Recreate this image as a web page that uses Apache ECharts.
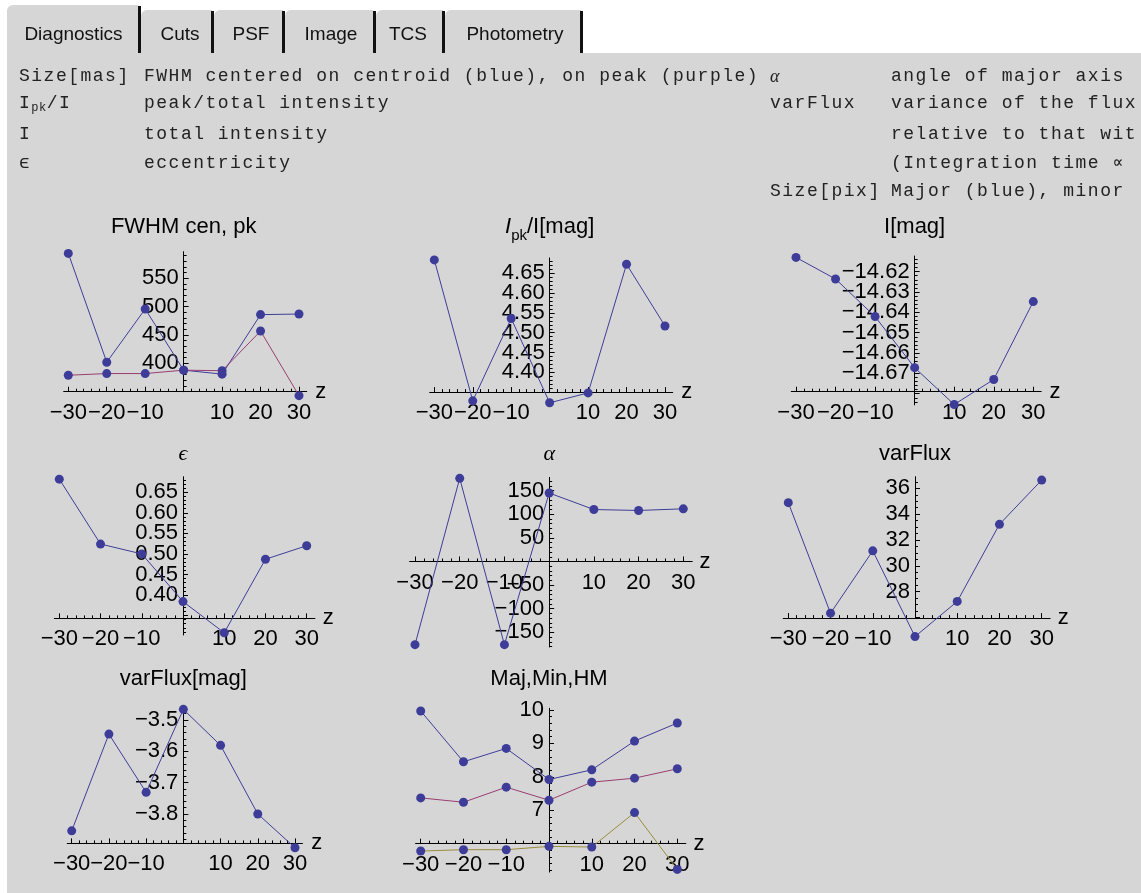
<!DOCTYPE html>
<html>
<head>
<meta charset="utf-8">
<script src="https://cdn.jsdelivr.net/npm/echarts@6/dist/echarts.min.js"></script>
<style>
html,body{margin:0;padding:0;width:1141px;height:893px;overflow:hidden;background:#fff;}
#panel{position:absolute;left:7px;top:53px;right:0;bottom:0;background:#d6d6d6;}
.tab{position:absolute;background:#d6d6d6;border-top-left-radius:6px;}
.bar{position:absolute;background:#111;width:3px;}
.tabtxt{position:absolute;top:22px;line-height:24px;font-size:19px;font-family:'Liberation Sans',Arial,sans-serif;color:#111;text-align:center;white-space:nowrap;z-index:3;}
#chart{position:absolute;left:0;top:0;width:1141px;height:893px;z-index:1;}
.desc{position:absolute;font-size:18px;font-family:'Liberation Mono','Courier New',monospace;letter-spacing:1.5px;color:#222;white-space:pre;line-height:24px;z-index:2;}
.desc sub{font-size:12px;vertical-align:-3px;line-height:0;letter-spacing:0.5px;}
.greek{font-family:'Liberation Serif','DejaVu Serif',serif;font-style:italic;}
</style>
</head>
<body>
<div id="panel"></div>
<div class="tab" style="left:7px;top:5px;width:131px;height:48px;"></div><div class="bar" style="left:138px;top:6px;height:47px;"></div>
<div class="tab" style="left:141px;top:10px;width:71px;height:43px;"></div><div class="bar" style="left:211px;top:11px;height:42px;"></div>
<div class="tab" style="left:214px;top:10px;width:69px;height:43px;"></div><div class="bar" style="left:282px;top:11px;height:42px;"></div>
<div class="tab" style="left:285px;top:10px;width:88px;height:43px;"></div><div class="bar" style="left:373px;top:11px;height:42px;"></div>
<div class="tab" style="left:376px;top:10px;width:67px;height:43px;"></div><div class="bar" style="left:442px;top:11px;height:42px;"></div>
<div class="tab" style="left:445px;top:10px;width:136px;height:43px;"></div><div class="bar" style="left:580px;top:11px;height:42px;"></div>
<div class="tabtxt" style="left:23px;width:101px;">Diagnostics</div>
<div class="tabtxt" style="left:155px;width:50px;">Cuts</div>
<div class="tabtxt" style="left:226px;width:50px;">PSF</div>
<div class="tabtxt" style="left:296px;width:70px;">Image</div>
<div class="tabtxt" style="left:383px;width:50px;">TCS</div>
<div class="tabtxt" style="left:460px;width:110px;">Photometry</div>

<div class="desc" style="left:19px;top:64px;">Size[mas]</div>
<div class="desc" style="left:144px;top:64px;">FWHM centered on centroid (blue), on peak (purple)</div>
<div class="desc" style="left:770px;top:64px;"><span class="greek">α</span></div>
<div class="desc" style="left:891px;top:64px;">angle of major axis</div>
<div class="desc" style="left:19px;top:91px;">I<sub>pk</sub>/I</div>
<div class="desc" style="left:144px;top:91px;">peak/total intensity</div>
<div class="desc" style="left:770px;top:91px;">varFlux</div>
<div class="desc" style="left:891px;top:91px;">variance of the flux</div>
<div class="desc" style="left:19px;top:122px;">I</div>
<div class="desc" style="left:144px;top:122px;">total intensity</div>
<div class="desc" style="left:891px;top:122px;">relative to that wit</div>
<div class="desc" style="left:19px;top:151px;">ϵ</div>
<div class="desc" style="left:144px;top:151px;">eccentricity</div>
<div class="desc" style="left:891px;top:151px;">(Integration time ∝</div>
<div class="desc" style="left:770px;top:179px;">Size[pix]</div>
<div class="desc" style="left:891px;top:179px;">Major (blue), minor</div>

<div id="chart"></div>
<script>
// ---------------- data ----------------
const zValues = [-30, -20, -10, 0, 10, 20, 30];
const zTickLabels = [-30, -20, -10, 10, 20, 30];

const fwhmCentroid = [594, 402, 496, 388, 381, 486, 487];
const fwhmPeak = [379, 382, 382, 388, 387, 457, 343];
const ipkOverI = [4.684, 4.328, 4.536, 4.323, 4.348, 4.673, 4.517];
const totalIntensity = [-14.613, -14.6236, -14.6421, -14.6672, -14.6853, -14.6730, -14.6347];
const eccentricity = [0.682, 0.524, 0.500, 0.384, 0.308, 0.487, 0.520];
const majorAxisAngle = [-176, 176, -176, 145, 110, 108, 111.5];
const varFlux = [34.89, 26.33, 31.16, 24.52, 27.24, 33.21, 36.64];
const varFluxMag = [-3.854, -3.545, -3.731, -3.466, -3.581, -3.800, -3.908];
const sizeMajor = [9.97, 8.45, 8.85, 7.92, 8.21, 9.07, 9.61];
const sizeMinor = [7.37, 7.24, 7.69, 7.30, 7.84, 7.96, 8.24];
const sizeHM = [5.78, 5.82, 5.82, 5.92, 5.90, 6.93, 5.23];

const fwhmTickLabels = [400, 450, 500, 550];
const ipkTickLabels = [4.40, 4.45, 4.50, 4.55, 4.60, 4.65];
const intensityTickLabels = [-14.67, -14.66, -14.65, -14.64, -14.63, -14.62];
const eccTickLabels = [0.40, 0.45, 0.50, 0.55, 0.60, 0.65];
const angleTickLabels = [-150, -100, -50, 50, 100, 150];
const varFluxTickLabels = [28, 30, 32, 34, 36];
const varFluxMagTickLabels = [-3.8, -3.7, -3.6, -3.5];
const sizeTickLabels = [7, 8, 9, 10];

// ---------------- styles / layout ----------------
const MARKER = '#3d3d99';
const BLUE = '#3d3d99';
const PURPLE = '#993d71';
const OLIVE = '#998c3d';
const FONT = "'Liberation Sans', Arial, Helvetica, sans-serif";
const SERIF = "'Liberation Serif', 'DejaVu Serif', serif";
const XMIN = -31.2, XMAX = 32;

const panels = [
  {title: 'FWHM cen, pk', lines: [[fwhmCentroid, BLUE], [fwhmPeak, PURPLE]], labels: fwhmTickLabels, dec: 0,
   xa: 68.3, xb: 299.0, ymin: 350, ymax: 597, yTop: 251.7, yBot: 391.7, cross: 350, step: 50, split: 5, titleY: 227},
  {title: '{i|I}{s|pk}/I[mag]', lines: [[ipkOverI, BLUE]], labels: ipkTickLabels, dec: 2,
   xa: 434.3, xb: 665.0, ymin: 4.35, ymax: 4.689, yTop: 257.9, yBot: 392.1, cross: 4.35, step: 0.05, split: 5, titleY: 227},
  {title: 'I[mag]', lines: [[totalIntensity, BLUE]], labels: intensityTickLabels, dec: 2,
   xa: 796.0, xb: 1033.3, ymin: -14.6855, ymax: -14.6123, yTop: 256.0, yBot: 404.9, cross: -14.679, step: 0.01, split: 5, titleY: 227},
  {title: '{g|ϵ}', lines: [[eccentricity, BLUE]], labels: eccTickLabels, dec: 2,
   xa: 59.3, xb: 306.7, ymin: 0.3026, ymax: 0.688, yTop: 476.7, yBot: 635.0, cross: 0.343, step: 0.05, split: 5, titleY: 454},
  {title: '{g|α}', lines: [[majorAxisAngle, BLUE]], labels: angleTickLabels, dec: 0,
   xa: 415.0, xb: 683.3, ymin: -181, ymax: 178, yTop: 477.4, yBot: 647.0, cross: 0, step: 50, split: 5, titleY: 454},
  {title: 'varFlux', lines: [[varFlux, BLUE]], labels: varFluxTickLabels, dec: 0,
   xa: 788.3, xb: 1041.7, ymin: 25.95, ymax: 36.9, yTop: 476.7, yBot: 618.1, cross: 25.95, step: 2, split: 4, titleY: 454},
  {title: 'varFlux[mag]', lines: [[varFluxMag, BLUE]], labels: varFluxMagTickLabels, dec: 1,
   xa: 71.7, xb: 295.0, ymin: -3.894, ymax: -3.463, yTop: 708.4, yBot: 843.4, cross: -3.894, step: 0.1, split: 5, titleY: 679},
  {title: 'Maj,Min,HM', lines: [[sizeMajor, BLUE], [sizeMinor, PURPLE], [sizeHM, OLIVE]], labels: sizeTickLabels, dec: 0,
   xa: 420.7, xb: 677.3, ymin: 5.15, ymax: 10.05, yTop: 708.3, yBot: 872.1, cross: 6, step: 1, split: 5, titleY: 679}
];

function fmt(v, dec) {
  const s = Math.abs(v).toFixed(dec);
  return (v < -1e-9 ? '\u2212' : '') + s;
}
function majors(lo, hi, step) {
  const out = [];
  const k0 = Math.ceil(lo / step - 1e-9), k1 = Math.floor(hi / step + 1e-9);
  for (let k = k0; k <= k1; k++) out.push(+(k * step).toFixed(6));
  return out;
}

const grids = [], xAxes = [], yAxes = [], series = [], graphics = [];
const axisLine = {show: true, onZero: false, lineStyle: {color: '#000', width: 1}};

panels.forEach((p, i) => {
  const s = (p.xb - p.xa) / 60;
  const x0 = p.xa + 30 * s;
  const left = x0 + XMIN * s;
  const width = (XMAX - XMIN) * s;
  const top = p.yTop;
  const height = p.yBot - p.yTop;
  grids.push({left: left, top: top, width: width, height: height, containLabel: false, outerBoundsMode: 'none'});
  const xOff = ((p.cross - p.ymin) / (p.ymax - p.ymin)) * height;
  // padding entries at the axis ends (hidden) so that no real label is dropped by min/max-label handling
  const xLabelVals = [XMIN].concat(zTickLabels, [XMAX]);
  const yLabelVals = [p.ymin].concat(p.labels, [p.ymax]);
  const xReal = new Set(zTickLabels);
  const yReal = new Set(p.labels);
  xAxes.push({
    gridIndex: i, type: 'value', min: XMIN, max: XMAX, minInterval: 10, maxInterval: 10,
    position: 'bottom', offset: -xOff,
    axisLine: axisLine,
    axisTick: {show: true, inside: true, length: 5, customValues: zTickLabels, lineStyle: {color: '#000', width: 1}},
    minorTick: {show: true, splitNumber: 5, length: 3, lineStyle: {color: '#000', width: 1}},
    axisLabel: {show: true, customValues: xLabelVals, formatter: v => (xReal.has(v) ? fmt(v, 0) : ''),
                fontSize: 22, fontFamily: FONT, color: '#000', margin: 10,
                hideOverlap: false, showMinLabel: false, showMaxLabel: false},
    splitLine: {show: false}, minorSplitLine: {show: false},
    name: 'z', nameLocation: 'end', nameGap: 7, nameTextStyle: {fontSize: 22, fontFamily: FONT, color: '#000'}
  });
  yAxes.push({
    gridIndex: i, type: 'value', min: p.ymin, max: p.ymax, minInterval: p.step, maxInterval: p.step,
    position: 'left', offset: -(x0 - left),
    axisLine: axisLine,
    axisTick: {show: true, inside: true, length: 5, customValues: majors(p.ymin, p.ymax, p.step), lineStyle: {color: '#000', width: 1}},
    minorTick: {show: true, splitNumber: p.split, length: 3, lineStyle: {color: '#000', width: 1}},
    axisLabel: {show: true, customValues: yLabelVals, formatter: v => (yReal.has(v) ? fmt(v, p.dec) : ''),
                fontSize: 22, lineHeight: 14, fontFamily: FONT, color: '#000', margin: 5,
                hideOverlap: false, showMinLabel: false, showMaxLabel: false},
    splitLine: {show: false}, minorSplitLine: {show: false}
  });
  p.lines.forEach(([vals, color]) => {
    series.push({
      type: 'line', xAxisIndex: i, yAxisIndex: i, data: zValues.map((z, k) => [z, vals[k]]),
      symbol: 'none', showSymbol: false, clip: false, silent: true, z: 2,
      lineStyle: {color: color, width: 1}
    });
  });
  p.lines.forEach(([vals]) => {
    series.push({
      type: 'scatter', xAxisIndex: i, yAxisIndex: i, data: zValues.map((z, k) => [z, vals[k]]),
      symbol: 'circle', symbolSize: 9, clip: false, silent: true, z: 3,
      itemStyle: {color: MARKER, opacity: 1}
    });
  });
  graphics.push({
    type: 'text', x: x0, y: p.titleY, z: 10,
    style: {
      text: p.title, fill: '#000', fontSize: 22, fontFamily: FONT, align: 'center', verticalAlign: 'middle',
      rich: {
        i: {fontSize: 22, fontFamily: FONT, fontStyle: 'italic', lineHeight: 32, fill: '#000'},
        s: {fontSize: 15, fontFamily: FONT, lineHeight: 32, verticalAlign: 'bottom', fill: '#000'},
        g: {fontSize: 22, fontFamily: SERIF, fontStyle: 'italic', fill: '#000'}
      }
    }
  });
});

const chart = echarts.init(document.getElementById('chart'), null, {renderer: 'canvas'});
chart.setOption({
  animation: false,
  backgroundColor: 'transparent',
  textStyle: {fontFamily: FONT},
  grid: grids,
  xAxis: xAxes,
  yAxis: yAxes,
  series: series,
  graphic: graphics
});
</script>
</body>
</html>
